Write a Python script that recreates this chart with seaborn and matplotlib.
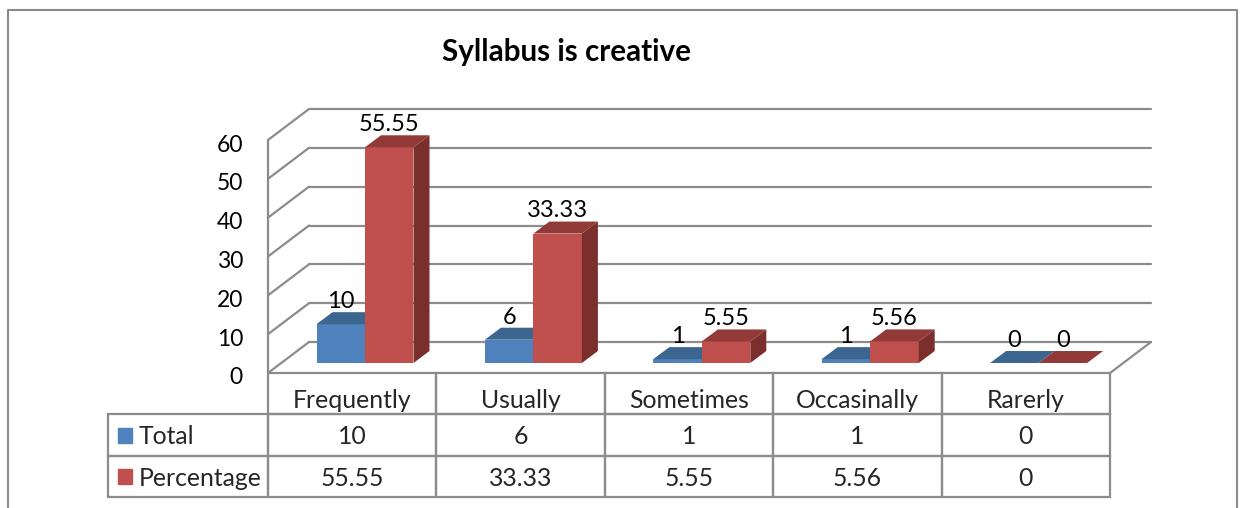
import matplotlib
matplotlib.use("Agg")
import pandas as pd
import matplotlib.pyplot as plt
import matplotlib.transforms as mtransforms
from matplotlib.patches import Polygon, Rectangle
import seaborn as sns

# Data
categories = ["Frequently", "Usually", "Sometimes", "Occasinally", "Rarerly"]
series = ["Total", "Percentage"]
total = [10, 6, 1, 1, 0]
percentage = [55.55, 33.33, 5.55, 5.56, 0]
total_labels = ["10", "6", "1", "1", "0"]
percentage_labels = ["55.55", "33.33", "5.55", "5.56", "0"]
y_ticks = [0, 10, 20, 30, 40, 50, 60]

# Colours: front, top, side
blue = ("#4f81bd", "#3c6590", "#345884")
red = ("#c0504d", "#923a38", "#7b2f2d")
grid_col = "#8c8c8c"

W, H = 1241, 508
sns.set_theme(style="white")
plt.rcParams["font.family"] = ["Lato", "DejaVu Sans"]

fig = plt.figure(figsize=(W / 100, H / 100), dpi=100)

# background axes in pixel units for frame, title, table
bg = fig.add_axes([0, 0, 1, 1])
bg.set_xlim(0, W)
bg.set_ylim(H, 0)
bg.axis("off")

# bar plane of the 3D box (pixels)
left_px, right_px, base_px, top_px = 280.8, 1122.8, 363, 130
ax = fig.add_axes([left_px / W, (H - base_px) / H,
                   (right_px - left_px) / W, (base_px - top_px) / H])
ax.set_zorder(2)

df = pd.DataFrame({
    "category": categories * 2,
    "series": [series[0]] * 5 + [series[1]] * 5,
    "value": total + percentage,
})
sns.barplot(data=df, x="category", y="value", hue="series",
            palette=[blue[0], red[0]], saturation=1, width=0.576,
            linewidth=0, legend=False, ax=ax)
ax.set_xlim(-0.5, 4.5)
ax.set_ylim(0, 60)
ax.axis("off")

# pixel -> data conversion
px_x = (right_px - left_px) / 5
px_y = (base_px - top_px) / 60
front = (-12.8 / px_x, -10 / px_y)
back = (28.2 / px_x, 21 / px_y)
depth = (16 / px_x, 12 / px_y)

# walls and gridlines
kw = dict(color=grid_col, lw=1.6, clip_on=False, zorder=0.5)
xl, xr = -0.5, 4.5
for v in y_ticks:
    ax.plot([xl + back[0], xr + back[0]], [v + back[1], v + back[1]], **kw)
    ax.plot([xl + front[0], xl + back[0]], [v + front[1], v + back[1]], **kw)
    ax.text(xl + front[0] - 25 / px_x, v + front[1] - 5 / px_y, str(v),
            ha="right", va="center", fontsize=16.5, color="black")
ax.plot([xl + front[0]] * 2, [front[1], 60 + front[1]], **kw)
ax.plot([xr + front[0], xr + back[0]], [front[1], back[1]], **kw)

# 3D faces on the bars
bars = sorted(ax.patches, key=lambda p: p.get_x())
labels = [None] * 10
for i in range(5):
    labels[2 * i] = total_labels[i]
    labels[2 * i + 1] = percentage_labels[i]
for k, p in enumerate(bars):
    cols = blue if k % 2 == 0 else red
    x0, w, h = p.get_x(), p.get_width(), p.get_height()
    z = 1 + k * 0.1
    p.set_zorder(z)
    top = Polygon([(x0, h), (x0 + w, h), (x0 + w + depth[0], h + depth[1]),
                   (x0 + depth[0], h + depth[1])],
                  closed=True, facecolor=cols[1], edgecolor="none",
                  zorder=z + 0.01, clip_on=False)
    side = Polygon([(x0 + w, 0), (x0 + w + depth[0], depth[1]),
                    (x0 + w + depth[0], h + depth[1]), (x0 + w, h)],
                   closed=True, facecolor=cols[2], edgecolor="none",
                   zorder=z + 0.01, clip_on=False)
    ax.add_patch(side)
    ax.add_patch(top)
    ax.annotate(labels[k], (x0 + w / 2, h), xytext=(0, 16.3),
                textcoords="offset points", ha="center", va="center",
                fontsize=17, color="black", zorder=5, annotation_clip=False)

# outer frame
frame = dict(color="#8a8a8a", lw=1.5)
bg.plot([8, 8, 1237, 1237], [H + 5, 10, 10, H + 5], **frame)

# title
bg.text(566, 61, "Syllabus is creative", ha="center", va="baseline",
        fontsize=21.3, fontweight="bold", color="black")

# data table
tbl = bg.table(cellText=[total_labels, percentage_labels],
               rowLabels=series, colLabels=categories,
               cellLoc="center", colLoc="center", rowLoc="left",
               colWidths=[px_x / W] * 5,
               bbox=[268 / W, (H - 497) / H, 842 / W, 124 / H])
tbl._autoColumns = []
tbl.auto_set_font_size(False)
tbl.set_fontsize(17.8)
for (r, c), cell in tbl.get_celld().items():
    cell.set_edgecolor(grid_col)
    cell.set_linewidth(1.6)
    cell.set_facecolor("none")
    shift = -7 if r == 0 else -2
    cell.get_text().set_transform(
        mtransforms.ScaledTranslation(0, shift / 100, fig.dpi_scale_trans))
    if c == -1:
        cell.set_width(160 / W)
        cell.PAD = 31 / 160

# legend keys inside the table
bg.add_patch(Rectangle((118, 428), 14, 15, color=blue[0]))
bg.add_patch(Rectangle((118, 469), 14, 15, color=red[0]))

fig.savefig("out.png", dpi=100)
